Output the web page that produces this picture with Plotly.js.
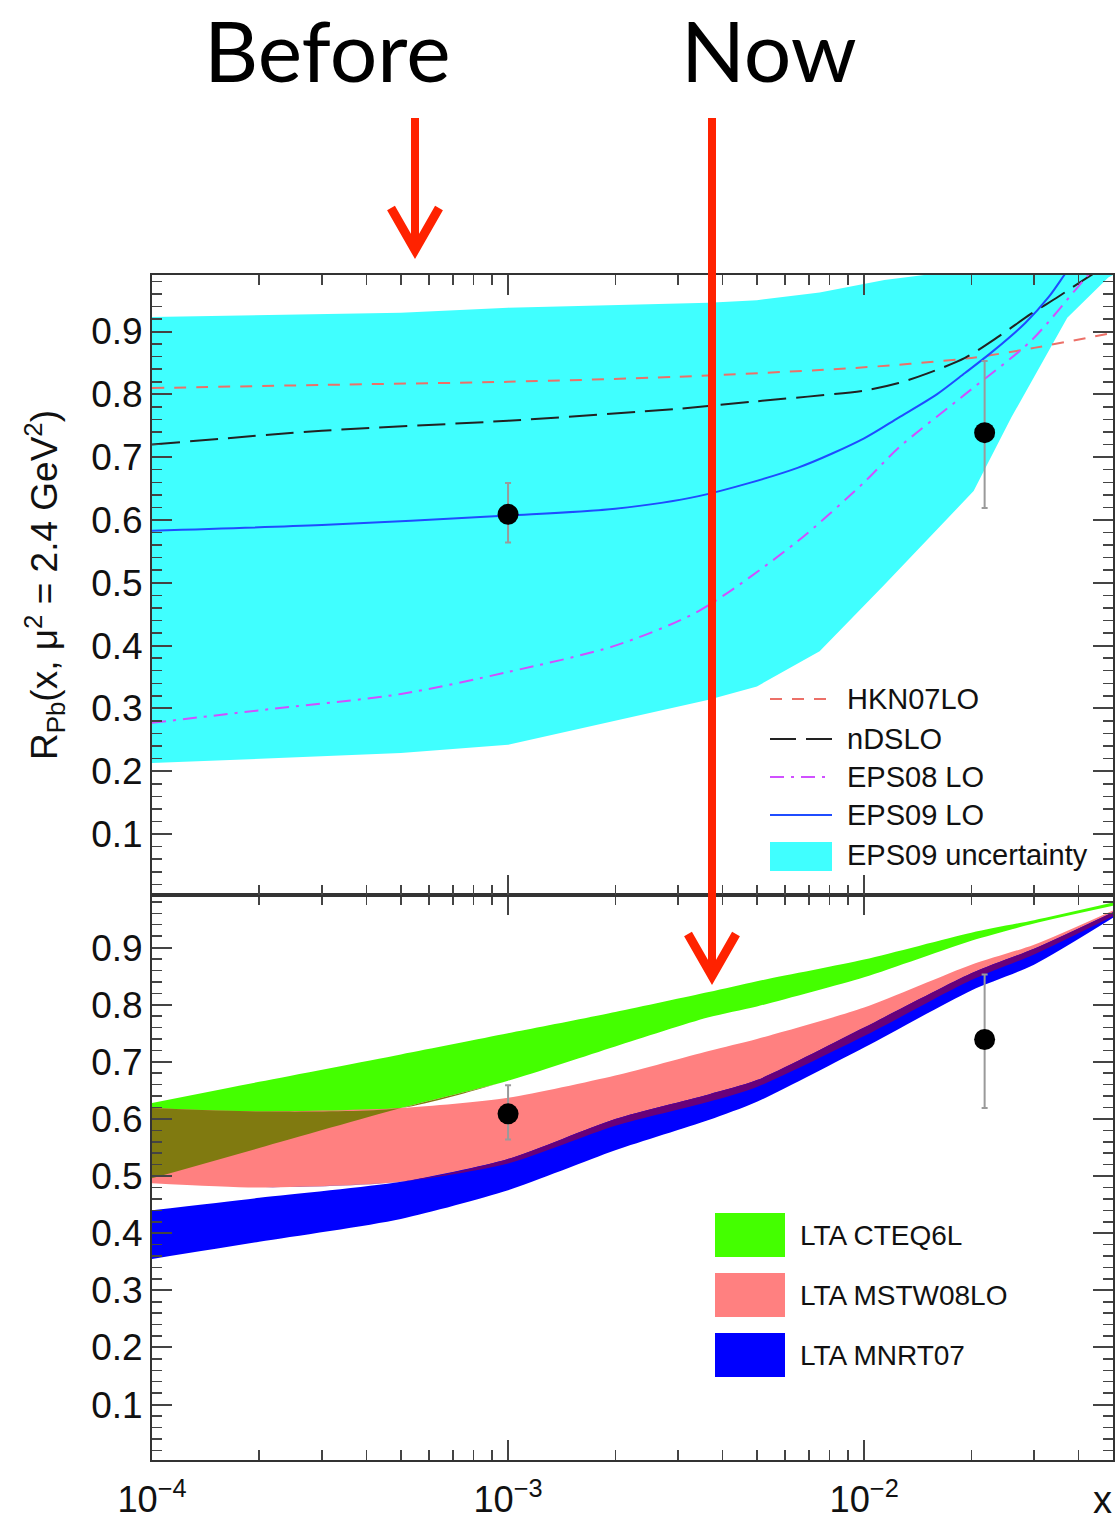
<!DOCTYPE html>
<html><head><meta charset="utf-8">
<script src="https://cdn.plot.ly/plotly-3.0.1.min.js"></script>
<style>html,body{margin:0;padding:0;background:#fff;}#chart{width:1116px;height:1521px;}</style>
</head><body><div id="chart"></div>
<script>
// ---------------- data ----------------
// measured points (same in both panels)
const dataX = [0.001, 0.0218];
const dataY = [0.609, 0.739];
const dataErrPlus = [0.05, 0.114];
const dataErrMinus = [0.045, 0.12];

// top panel curves
const hknX = [1e-4, 3e-4, 1e-3, 3e-3, 1e-2, 2e-2, 3e-2, 5e-2];
const hknY = [0.81, 0.815, 0.82, 0.828, 0.843, 0.858, 0.874, 0.898];

const ndsX = [1e-4, 3e-4, 1e-3, 3e-3, 5e-3, 1e-2, 1.25e-2, 1.5e-2, 1.92e-2, 2.4e-2, 2.94e-2, 3.5e-2, 4.32e-2, 5e-2];
const ndsY = [0.72, 0.742, 0.758, 0.777, 0.789, 0.806, 0.818, 0.833, 0.858, 0.893, 0.928, 0.955, 0.989, 1.01];

const eps08X = [1e-4, 2e-4, 5e-4, 1e-3, 2e-3, 3.43e-3, 6.5e-3, 1e-2, 1.25e-2, 1.92e-2, 2.94e-2, 4.26e-2, 5e-2];
const eps08Y = [0.277, 0.297, 0.323, 0.358, 0.40, 0.455, 0.566, 0.66, 0.715, 0.80, 0.885, 0.99, 1.03];

const eps09X = [1e-4, 3e-4, 1e-3, 2e-3, 3.43e-3, 6.5e-3, 1e-2, 1.25e-2, 1.6e-2, 1.92e-2, 2.27e-2, 2.84e-2, 3.3e-2, 3.65e-2, 4.2e-2];
const eps09Y = [0.583, 0.592, 0.607, 0.618, 0.638, 0.683, 0.73, 0.763, 0.80, 0.834, 0.866, 0.914, 0.955, 0.99, 1.04];

const eps09BandX    = [1e-4, 5e-4, 1e-3, 2e-3, 3.66e-3, 5e-3, 7.5e-3, 1.14e-2, 1.5e-2, 2.03e-2, 2.59e-2, 3.72e-2, 4.85e-2, 5e-2];
const eps09BandLow  = [0.213, 0.229, 0.242, 0.28, 0.314, 0.335, 0.391, 0.497, 0.568, 0.646, 0.763, 0.922, 0.986, 0.99];
const eps09BandHigh = [0.923, 0.93, 0.938, 0.942, 0.946, 0.95, 0.962, 0.982, 0.99, 1.0, 1.0, 1.0, 1.0, 1.0];

// bottom panel bands (LTA)
const ltaX     = [1e-4, 2e-4, 5e-4, 1e-3, 2e-3, 3.66e-3, 5e-3, 1e-2, 2e-2, 3e-2, 5e-2];
const cteqLow  = [0.496, 0.549, 0.619, 0.667, 0.727, 0.778, 0.797, 0.848, 0.912, 0.942, 0.973];
const cteqHigh = [0.628, 0.665, 0.713, 0.750, 0.787, 0.822, 0.841, 0.879, 0.926, 0.948, 0.979];
const mstwLow  = [0.4875, 0.48, 0.49, 0.522, 0.588, 0.63, 0.656, 0.745, 0.843, 0.888, 0.955];
const mstwHigh = [0.619, 0.613, 0.619, 0.637, 0.676, 0.719, 0.74, 0.795, 0.87, 0.905, 0.965];
const mnrtLow  = [0.355, 0.385, 0.425, 0.475, 0.545, 0.598, 0.63, 0.725, 0.825, 0.87, 0.952];
const mnrtHigh = [0.44, 0.462, 0.49, 0.53, 0.60, 0.643, 0.668, 0.76, 0.855, 0.898, 0.962];

const topLegend = ['HKN07LO', 'nDSLO', 'EPS08 LO', 'EPS09 LO', 'EPS09 uncertainty'];
const bottomLegend = ['LTA CTEQ6L', 'LTA MSTW08LO', 'LTA MNRT07'];

// ---------------- styling ----------------
const C = {
  cyan: '#40ffff', hkn: '#ec7068', nds: '#222222', eps08: '#d050ff', eps09: '#1f4cff',
  green: '#44ff00', pink: '#ff8080', blue: '#0000ff', olive: '#807a10', purple: '#68007a',
  arrow: '#ff2200'
};
const FONT = 'Liberation Sans, Arial, Helvetica, sans-serif';

// linear-edged band (polygon)
function band(xs, lo, hi, color, xa, ya) {
  return [{type: 'scatter', mode: 'lines', x: xs.concat(xs.slice().reverse()),
    y: hi.concat(lo.slice().reverse()), fill: 'toself', fillcolor: color,
    line: {width: 0, color: color}, hoverinfo: 'skip', showlegend: false, xaxis: xa, yaxis: ya}];
}
// smooth-edged band (lower edge + upper edge filled to it)
function smoothBand(xs, lo, hi, color, xa, ya) {
  return [
    {type: 'scatter', mode: 'lines', x: xs, y: lo, line: {width: 0, color: color, shape: 'spline', smoothing: 0.7},
      hoverinfo: 'skip', showlegend: false, xaxis: xa, yaxis: ya},
    {type: 'scatter', mode: 'lines', x: xs, y: hi, fill: 'tonexty', fillcolor: color,
      line: {width: 0, color: color, shape: 'spline', smoothing: 0.7},
      hoverinfo: 'skip', showlegend: false, xaxis: xa, yaxis: ya}
  ];
}
function overlapBand(loA, hiA, loB, hiB) {
  const lo = loA.map((v, i) => Math.max(v, loB[i]));
  const hi = hiA.map((v, i) => Math.max(lo[i], Math.min(v, hiB[i])));
  return {lo, hi};
}
function curve(xs, ys, color, dash, xa, ya) {
  return {type: 'scatter', mode: 'lines', x: xs, y: ys,
    line: {color: color, width: 2, dash: dash, shape: 'spline', smoothing: 0.8},
    hoverinfo: 'skip', showlegend: false, xaxis: xa, yaxis: ya};
}
function points(xa, ya) {
  return {type: 'scatter', mode: 'markers', x: dataX, y: dataY,
    marker: {size: 21, color: '#000'},
    error_y: {type: 'data', array: dataErrPlus, arrayminus: dataErrMinus, color: '#9a9a9a', thickness: 2, width: 3},
    showlegend: false, xaxis: xa, yaxis: ya};
}

const gp = overlapBand(cteqLow, cteqHigh, mstwLow, mstwHigh);
const pb = overlapBand(mstwLow, mstwHigh, mnrtLow, mnrtHigh);

const traces = [].concat(
  // top panel
  band(eps09BandX, eps09BandLow, eps09BandHigh, C.cyan, 'x2', 'y2'),
  [curve(hknX, hknY, C.hkn, '12px,10px', 'x2', 'y2'),
   curve(ndsX, ndsY, C.nds, '28px,10px', 'x2', 'y2'),
   curve(eps08X, eps08Y, C.eps08, '14px,7px,3px,7px', 'x2', 'y2'),
   curve(eps09X, eps09Y, C.eps09, 'solid', 'x2', 'y2'),
   points('x2', 'y2')],
  // bottom panel
  smoothBand(ltaX, cteqLow, cteqHigh, C.green, 'x', 'y'),
  smoothBand(ltaX, mstwLow, mstwHigh, C.pink, 'x', 'y'),
  smoothBand(ltaX, mnrtLow, mnrtHigh, C.blue, 'x', 'y'),
  smoothBand(ltaX, gp.lo, gp.hi, C.olive, 'x', 'y'),
  smoothBand(ltaX, pb.lo, pb.hi, C.purple, 'x', 'y'),
  [points('x', 'y')]
);

// pixel helpers for paper-positioned decorations
const PL = 152, PR = 1113, PT = 275, PB = 1460;
const fx = p => (p - PL) / (PR - PL);
const fy = p => (PB - p) / (PB - PT);
const split = fy(895);

const axisLine = {showline: true, linecolor: '#333', linewidth: 2, mirror: 'ticks',
  ticks: 'inside', ticklen: 20, tickwidth: 2, tickcolor: '#444', showgrid: false, zeroline: false};

const xCommon = Object.assign({}, axisLine, {type: 'log', range: [-4, Math.log10(0.05)], dtick: 1,
  exponentformat: 'power',
  minor: {ticks: 'inside', ticklen: 10, tickwidth: 1.5, tickcolor: '#444', dtick: 'D1', showgrid: false}});
const yCommon = Object.assign({}, axisLine, {dtick: 0.1, tick0: 0,
  tickfont: {family: FONT, size: 37, color: '#111'},
  minor: {ticks: 'inside', ticklen: 10, tickwidth: 1.5, tickcolor: '#444', dtick: 0.02, showgrid: false}});

const shapes = [];
const ann = [];
// top legend
const topRows = [699, 739, 777, 815];
const topStyles = [[C.hkn, '12px,10px'], [C.nds, '26px,10px'], [C.eps08, '14px,7px,3px,7px'], [C.eps09, 'solid']];
topRows.forEach((r, i) => {
  shapes.push({type: 'line', xref: 'paper', yref: 'paper', x0: fx(770), x1: fx(832), y0: fy(r), y1: fy(r),
    line: {color: topStyles[i][0], width: 2, dash: topStyles[i][1]}});
  ann.push({xref: 'paper', yref: 'paper', x: fx(845), y: fy(r), xanchor: 'left', yanchor: 'middle',
    text: topLegend[i], showarrow: false, font: {family: FONT, size: 29, color: '#111'}});
});
shapes.push({type: 'rect', xref: 'paper', yref: 'paper', x0: fx(770), x1: fx(832), y0: fy(871), y1: fy(842),
  fillcolor: C.cyan, line: {width: 0}});
ann.push({xref: 'paper', yref: 'paper', x: fx(845), y: fy(855), xanchor: 'left', yanchor: 'middle',
  text: topLegend[4], showarrow: false, font: {family: FONT, size: 29, color: '#111'}});
// bottom legend
const botRows = [1235, 1295, 1355];
const botCols = [C.green, C.pink, C.blue];
botRows.forEach((r, i) => {
  shapes.push({type: 'rect', xref: 'paper', yref: 'paper', x0: fx(715), x1: fx(785), y0: fy(r + 22), y1: fy(r - 22),
    fillcolor: botCols[i], line: {width: 0}});
  ann.push({xref: 'paper', yref: 'paper', x: fx(798), y: fy(r), xanchor: 'left', yanchor: 'middle',
    text: bottomLegend[i], showarrow: false, font: {family: FONT, size: 28, color: '#111'}});
});
// x axis label
ann.push({xref: 'paper', yref: 'paper', x: fx(1102), y: fy(1500), xanchor: 'center', yanchor: 'middle',
  text: 'x', showarrow: false, font: {family: FONT, size: 38, color: '#111'}});
// Before / Now headings
ann.push({xref: 'paper', yref: 'paper', x: fx(327), y: fy(49), xanchor: 'center', yanchor: 'middle',
  text: 'Before', showarrow: false, font: {family: 'Lato, Open Sans, sans-serif', size: 84, color: '#000'}});
ann.push({xref: 'paper', yref: 'paper', x: fx(769), y: fy(49), xanchor: 'center', yanchor: 'middle',
  text: 'Now', showarrow: false, font: {family: 'Lato, Open Sans, sans-serif', size: 84, color: '#000'}});
// red arrows (drawn as shapes: shaft + chevron head)
function arrowShapes(px, yTail, yTip) {
  const w = 24, h = 42;
  return [
    {type: 'line', xref: 'paper', yref: 'paper', x0: fx(px), x1: fx(px), y0: fy(yTail), y1: fy(yTip - 4),
      line: {color: C.arrow, width: 8}},
    {type: 'path', xref: 'paper', yref: 'paper',
      path: 'M' + fx(px - w) + ',' + fy(yTip - h) + ' L' + fx(px) + ',' + fy(yTip) + ' L' + fx(px + w) + ',' + fy(yTip - h),
      line: {color: C.arrow, width: 9}}
  ];
}
shapes.push.apply(shapes, arrowShapes(415, 118, 250));
shapes.push.apply(shapes, arrowShapes(712, 118, 976));

const layout = {
  width: 1116, height: 1521,
  margin: {l: PL, r: 1116 - PR, t: PT, b: 1521 - PB},
  paper_bgcolor: '#fff', plot_bgcolor: '#fff',
  showlegend: false,
  font: {family: FONT, color: '#111'},
  xaxis: Object.assign({}, xCommon, {anchor: 'y', tickfont: {family: FONT, size: 29, color: '#111'}, ticklabelstandoff: 8}),
  xaxis2: Object.assign({}, xCommon, {anchor: 'y2', matches: 'x', showticklabels: false}),
  yaxis: Object.assign({}, yCommon, {domain: [0, split], range: [0.003, 0.992], anchor: 'x'}),
  yaxis2: Object.assign({}, yCommon, {domain: [split, 1], range: [0.003, 0.99], anchor: 'x2',
    title: {text: 'R<sub>Pb</sub>(x, μ<sup>2</sup> = 2.4 GeV<sup>2</sup>)', font: {family: FONT, size: 37, color: '#111'}, standoff: 22}}),
  shapes: shapes,
  annotations: ann
};

Plotly.newPlot('chart', traces, layout, {staticPlot: true, displayModeBar: false});
</script></body></html>
